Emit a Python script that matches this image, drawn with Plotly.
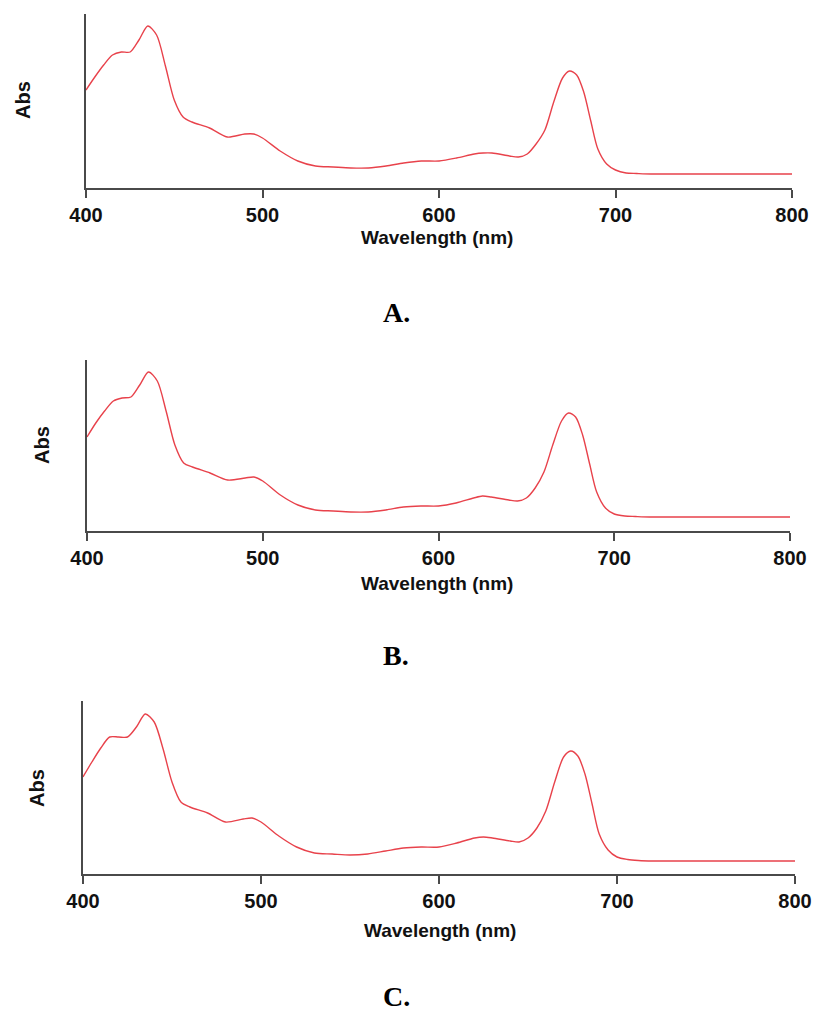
import plotly.graph_objects as go

wavelength = [400, 405, 410, 415, 420, 425, 430, 435, 440, 445, 450, 455, 460, 470, 480, 490,
              495, 500, 510, 520, 530, 540, 550, 560, 570, 580, 590, 600, 610, 620, 625, 630,
              640, 645, 650, 655, 660, 665, 670, 674, 678, 682, 686, 690, 695, 700, 706, 712,
              720, 740, 760, 780, 800]

abs_a = [98, 111, 123, 133, 136, 136, 148, 162, 153, 122, 88, 71, 66, 60, 51, 54,
         54, 50, 37, 27, 22, 21, 20, 20, 22, 25, 27, 27, 30, 34, 35, 35,
         32, 31, 34, 44, 58, 86, 110, 117, 113, 96, 67, 39, 24, 18, 15, 14.5,
         14, 14, 14, 14, 14]

abs_b = [94, 108, 120, 130, 133, 134, 146, 159, 150, 120, 86, 68, 64, 58, 51, 53,
         54, 50, 36, 26, 21, 20, 19, 19, 21, 24, 25, 25, 28, 33, 35, 34,
         31, 30, 33, 43, 59, 86, 110, 118, 114, 96, 67, 39, 23, 17, 15, 14.5,
         14, 14, 14, 14, 14]

abs_c = [97, 112, 126, 137, 137, 137, 147, 160, 152, 125, 92, 72, 67, 61, 52, 55,
         56, 52, 38, 27, 21, 20, 19, 20, 23, 26, 27, 27, 31, 36, 37, 36,
         33, 32, 36, 46, 63, 92, 117, 123, 118, 100, 70, 40, 24, 17, 14.5, 13.5,
         13, 13, 13, 13, 13]

x_ticks = [400, 500, 600, 700, 800]
x_title = "Wavelength (nm)"
y_title = "Abs"
panel_labels = ["A.", "B.", "C."]

W, H = 814, 1011
RED = "#e8424b"
AX = "#4a4a4a"

# panel geometry in pixels: (x_left, x_right, y_top, y_bottom, y_max, abs_x, abs_y, title_y, label_y)
panels = [
    (86, 792, 14, 188, 174, 23, 100, 237, 312),
    (87, 790, 360, 531, 171, 42, 445, 583, 655),
    (83, 795, 701, 874, 173, 37, 788, 930, 996),
]
series = [abs_a, abs_b, abs_c]

fig = go.Figure()
annotations = []
layout = {}
for i, (xl, xr, yt, yb, ymax, absx, absy, ty, ly) in enumerate(panels):
    n = "" if i == 0 else str(i + 1)
    fig.add_trace(go.Scatter(
        x=wavelength, y=series[i], mode="lines",
        line=dict(color=RED, width=1.4, shape="spline", smoothing=0.8),
        xaxis="x" + n, yaxis="y" + n, showlegend=False, hoverinfo="skip",
    ))
    layout["xaxis" + n] = dict(
        domain=[xl / W, xr / W], range=[400, 800], anchor="y" + n, automargin=False,
        showline=True, linecolor=AX, linewidth=1.5, showgrid=False, zeroline=False,
        ticks="outside", ticklen=8, tickwidth=1.5, tickcolor=AX,
        tickvals=x_ticks, ticktext=[str(v) for v in x_ticks],
        tickfont=dict(family="Liberation Sans, Arial", size=20, color="#111111", weight="bold"),
    )
    layout["yaxis" + n] = dict(
        domain=[1 - yb / H, 1 - yt / H], range=[0, ymax], anchor="x" + n, automargin=False,
        showline=True, linecolor=AX, linewidth=1.5, showgrid=False, zeroline=False,
        showticklabels=False, ticks="",
    )
    annotations.append(dict(
        text="<b>" + x_title + "</b>", x=(437 if i < 2 else 440) / W, y=1 - ty / H,
        xref="paper", yref="paper", showarrow=False, xanchor="center", yanchor="middle",
        font=dict(family="Liberation Sans, Arial", size=19, color="#111111"),
    ))
    annotations.append(dict(
        text="<b>" + y_title + "</b>", x=absx / W, y=1 - absy / H, textangle=-90,
        xref="paper", yref="paper", showarrow=False, xanchor="center", yanchor="middle",
        font=dict(family="Liberation Sans, Arial", size=20, color="#111111"),
    ))
    annotations.append(dict(
        text="<b>" + panel_labels[i] + "</b>", x=396 / W, y=1 - ly / H,
        xref="paper", yref="paper", showarrow=False, xanchor="center", yanchor="middle",
        font=dict(family="Liberation Serif, Times New Roman, serif", size=28, color="#000000"),
    ))

fig.update_layout(
    template="none",
    width=W, height=H, margin=dict(l=0, r=0, t=0, b=0, autoexpand=False),
    paper_bgcolor="white", plot_bgcolor="white",
    annotations=annotations, **layout,
)

fig.write_html(
    "out.html",
    config={"displayModeBar": False},
    post_script="document.body.style.margin='0';document.body.style.overflow='hidden';",
)
